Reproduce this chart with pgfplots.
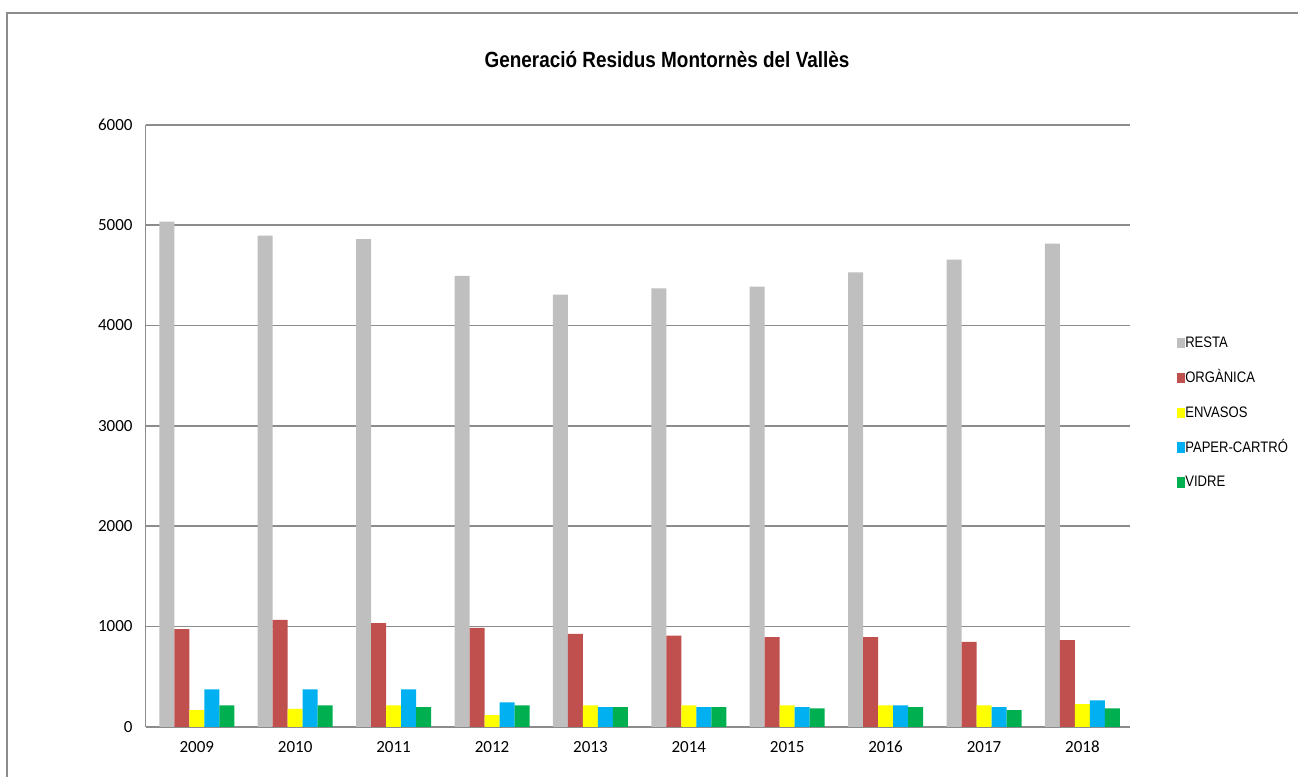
\documentclass[border=0pt]{standalone}
\usepackage{fontspec}
\setmainfont{Liberation Sans}
\newfontfamily\narrowfont[FakeStretch=0.86]{Liberation Sans}
\newfontfamily\tickfont{Carlito}
\usepackage{pgfplots}
\pgfplotsset{compat=1.18}

\definecolor{cresta}{HTML}{BFBFBF}
\definecolor{corg}{HTML}{C0504D}
\definecolor{cenv}{HTML}{FFFF00}
\definecolor{cpap}{HTML}{00B0F0}
\definecolor{cvid}{HTML}{00B050}
\definecolor{cgrid}{HTML}{8C8C8C}

\begin{document}
\begin{tikzpicture}[x=0.5pt,y=0.5pt]
\useasboundingbox (0,0) rectangle (1298,777);
% outer chart frame (only top and left visible)
\draw[cgrid, line width=0.8pt] (7,0) -- (7,764) -- (1298,764);
\node[font=\narrowfont\bfseries\fontsize{11}{13}\selectfont] at (667,717) {Generació Residus Montornès del Vallès};

\begin{axis}[
  at={(148,50)}, anchor=south west,
  scale only axis, width=492pt, height=301pt,
  ybar=0pt, bar width=7.5pt,
  xmin=-0.52, xmax=9.48, ymin=0, ymax=6000,
  xtick={0,...,9},
  xticklabels={2009,2010,2011,2012,2013,2014,2015,2016,2017,2018},
  ytick={0,1000,...,6000},
  scaled y ticks=false,
  /pgf/number format/fixed,
  /pgf/number format/1000 sep={},
  /pgf/number format/assume math mode=true,
  tick label style={font=\tickfont\fontsize{8.5}{10}\selectfont},
  major tick length=0pt,
  ymajorgrids, grid style={cgrid, line width=0.75pt},
  axis x line*=bottom, axis y line*=left,
  axis line style={cgrid, line width=0.75pt, -},
  xticklabel style={text height=6pt, text depth=0pt, yshift=-3.5pt},
  yticklabel style={xshift=-3pt},
  legend style={at={(1.048,0.653)}, anchor=north west, draw=none, fill=none,
    font=\narrowfont\fontsize{7.6}{9}\selectfont, row sep=8.4pt,
    inner sep=0pt, nodes={inner sep=0pt, text height=6.8pt, text depth=2.2pt}},
  legend cell align=left,
  legend image code/.code={\fill[#1] (0pt,-2.6pt) rectangle (4pt,2.6pt);},
]
\addplot[fill=cresta, draw=none] coordinates {(0,5035) (1,4895) (2,4860) (3,4495) (4,4307) (5,4370) (6,4387) (7,4530) (8,4657) (9,4817)};
\addplot[fill=corg, draw=none] coordinates {(0,974) (1,1067) (2,1034) (3,987) (4,927) (5,910) (6,894) (7,894) (8,847) (9,864)};
\addplot[fill=cenv, draw=none] coordinates {(0,167) (1,180) (2,214) (3,117) (4,214) (5,214) (6,214) (7,214) (8,214) (9,227)};
\addplot[fill=cpap, draw=none] coordinates {(0,374) (1,374) (2,374) (3,244) (4,197) (5,197) (6,197) (7,214) (8,197) (9,264)};
\addplot[fill=cvid, draw=none] coordinates {(0,214) (1,214) (2,197) (3,214) (4,197) (5,197) (6,184) (7,197) (8,167) (9,184)};
\legend{RESTA,ORGÀNICA,ENVASOS,PAPER-CARTRÓ,VIDRE}
\end{axis}
\end{tikzpicture}
\end{document}
